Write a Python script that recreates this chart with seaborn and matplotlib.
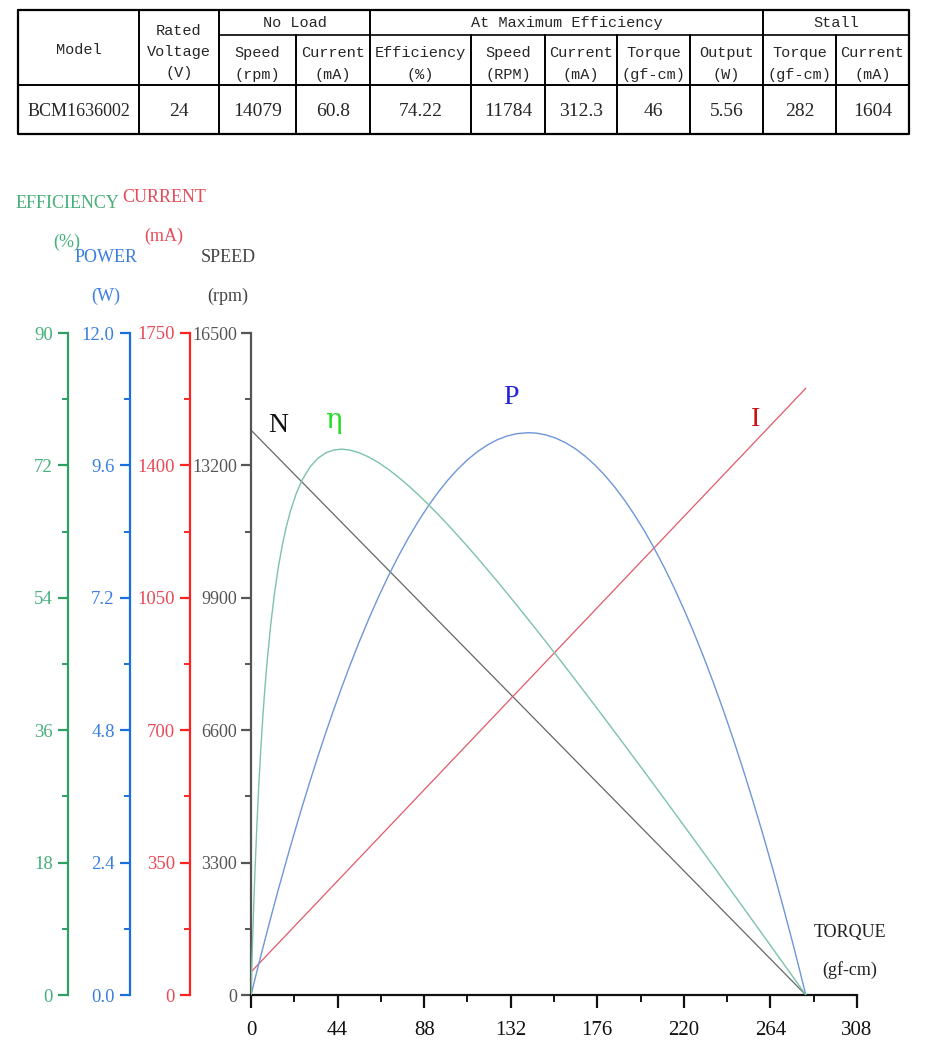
import numpy as np
import pandas as pd
import matplotlib
matplotlib.use("Agg")
import matplotlib.pyplot as plt
from matplotlib.ticker import FixedLocator, MultipleLocator, FormatStrFormatter
import seaborn as sns

# ---------------- data ----------------
table_values = ["BCM1636002", "24", "14079", "60.8", "74.22", "11784", "312.3", "46", "5.56", "282", "1604"]
group_headers = ["No Load", "At Maximum Efficiency", "Stall"]
col_headers = [["Model"], ["Rated", "Voltage", "(V)"], ["Speed", "(rpm)"], ["Current", "(mA)"],
               ["Efficiency", "(%)"], ["Speed", "(RPM)"], ["Current", "(mA)"], ["Torque", "(gf-cm)"],
               ["Output", "(W)"], ["Torque", "(gf-cm)"], ["Current", "(mA)"]]

torque_line = [0, 282]
speed_line = [14079, 0]
current_line = [60.8, 1604]

torque = [0, 0.5, 1, 1.5, 2, 3, 4, 5, 6, 7, 8, 10, 12, 14, 16, 18, 20, 23, 26, 30, 34, 38, 42, 46,
          50, 55, 60, 65, 70, 75, 80, 85, 90, 95, 100, 105, 110, 115, 120, 125, 130, 135, 141, 145,
          150, 155, 160, 165, 170, 175, 180, 185, 190, 195, 200, 205, 210, 215, 220, 225, 230, 235,
          240, 245, 250, 255, 260, 265, 270, 274, 276, 278, 282]
efficiency = [0, 4.73, 9.06, 13.03, 16.68, 23.16, 28.73, 33.56, 37.78, 41.50, 44.78, 50.30, 54.73,
              58.33, 61.28, 63.73, 65.75, 68.18, 70.02, 71.79, 72.97, 73.70, 74.09, 74.21,
              74.10, 73.72, 73.12, 72.35, 71.43, 70.38, 69.24, 68.02, 66.72, 65.36, 63.95, 62.49,
              60.99, 59.45, 57.88, 56.29, 54.67, 53.02, 51.02, 49.68,
              47.98, 46.26, 44.53, 42.79, 41.04, 39.28, 37.50, 35.72, 33.93, 32.13, 30.33, 28.51,
              26.70, 24.87, 23.04, 21.20, 19.36, 17.52, 15.67, 13.82, 11.96, 10.10, 8.24, 6.37,
              4.50, 3.00, 2.25, 1.50, 0]
power = [0, 0.072, 0.144, 0.216, 0.287, 0.429, 0.570, 0.710, 0.849, 0.987, 1.124, 1.395, 1.661,
         1.924, 2.182, 2.436, 2.687, 3.054, 3.413, 3.876, 4.323, 4.754, 5.168, 5.566,
         5.948, 6.401, 6.829, 7.232, 7.609, 7.960, 8.286, 8.585, 8.860, 9.108, 9.331, 9.529,
         9.701, 9.847, 9.967, 10.062, 10.131, 10.175, 10.193, 10.185,
         10.152, 10.093, 10.008, 9.898, 9.762, 9.601, 9.413, 9.201, 8.962, 8.698, 8.409, 8.093,
         7.752, 7.386, 6.993, 6.576, 6.132, 5.663, 5.168, 4.648, 4.102, 3.530, 2.933, 2.310,
         1.661, 1.124, 0.849, 0.570, 0]

x_ticks = [0, 44, 88, 132, 176, 220, 264, 308]
speed_ticks = [0, 3300, 6600, 9900, 13200, 16500]
current_ticks = [0, 350, 700, 1050, 1400, 1750]
power_ticks = [0.0, 2.4, 4.8, 7.2, 9.6, 12.0]
eff_ticks = [0, 18, 36, 54, 72, 90]

# ---------------- style ----------------
sns.set_style("ticks")
plt.rcParams['font.family'] = ['Liberation Serif', 'DejaVu Serif']

W, H = 950, 1064
fig = plt.figure(figsize=(W / 100, H / 100), dpi=100)

GREEN_SP, GREEN_TX, GREEN_LN = "#2ea062", "#45b07a", "#7cc3a6"
BLUE_SP, BLUE_TX, BLUE_LN = "#1a6fe0", "#3a7ee0", "#6e96d8"
RED_SP, RED_TX, RED_LN = "#ff2222", "#e84a58", "#e05a6a"
GRAY_SP, GRAY_TX, GRAY_LN = "#555555", "#555555", "#666666"

# ---------------- overlay (table + titles) ----------------
ov = fig.add_axes([0, 0, 1, 1])
ov.set_xlim(0, W)
ov.set_ylim(H, 0)
ov.axis("off")

col_edges = [18, 139, 219, 296, 370, 471, 545, 617, 690, 763, 836, 909]
y_top, y_mid, y_hdr, y_bot = 10, 35, 85, 134
ov.plot([18, 909, 909, 18, 18], [y_top, y_top, y_bot, y_bot, y_top], color="black", lw=1.6)
ov.plot([18, 909], [y_hdr, y_hdr], color="black", lw=1.4)
ov.plot([219, 909], [y_mid, y_mid], color="black", lw=1.2)
for xe in col_edges[1:-1]:
    if xe in (139, 219, 370, 763):
        ov.plot([xe, xe], [y_top, y_bot], color="black", lw=1.4)
    else:
        ov.plot([xe, xe], [y_mid, y_bot], color="black", lw=1.4)
centers = [(col_edges[i] + col_edges[i + 1]) / 2 for i in range(len(col_edges) - 1)]
mono = "Liberation Mono"
hfs = 11
ov.text((219 + 370) / 2, 23, group_headers[0], ha="center", va="center", fontsize=hfs, family=mono)
ov.text((370 + 763) / 2, 23, group_headers[1], ha="center", va="center", fontsize=hfs, family=mono)
ov.text((763 + 909) / 2, 23, group_headers[2], ha="center", va="center", fontsize=hfs, family=mono)
for i, hdr in enumerate(col_headers):
    if i == 0:
        ov.text(centers[i], 50, hdr[0], ha="center", va="center", fontsize=hfs, family=mono)
    elif i == 1:
        for j, t in enumerate(hdr):
            ov.text(centers[i], 31 + j * 21, t, ha="center", va="center", fontsize=hfs, family=mono)
    else:
        for j, t in enumerate(hdr):
            ov.text(centers[i], 53 + j * 22, t, ha="center", va="center", fontsize=hfs, family=mono)
for i, v in enumerate(table_values):
    ov.text(centers[i], 111, v, ha="center", va="center", fontsize=13 if i == 0 else 14)

# axis titles
tfs = 13
ov.text(67, 203, "EFFICIENCY", color=GREEN_TX, ha="center", va="center", fontsize=tfs)
ov.text(67, 242, "(%)", color=GREEN_TX, ha="center", va="center", fontsize=tfs)
ov.text(106, 258, "POWER", color=BLUE_TX, ha="center", va="center", fontsize=tfs)
ov.text(106, 296, "(W)", color=BLUE_TX, ha="center", va="center", fontsize=tfs)
ov.text(164, 198, "CURRENT", color=RED_TX, ha="center", va="center", fontsize=tfs)
ov.text(164, 236, "(mA)", color=RED_TX, ha="center", va="center", fontsize=tfs)
ov.text(228, 258, "SPEED", color="#444444", ha="center", va="center", fontsize=tfs)
ov.text(228, 296, "(rpm)", color="#444444", ha="center", va="center", fontsize=tfs)
ov.text(850, 933, "TORQUE", color="#222222", ha="center", va="center", fontsize=tfs)
ov.text(850, 970, "(gf-cm)", color="#222222", ha="center", va="center", fontsize=tfs)

# ---------------- main axes ----------------
x0, x1, yb, yt = 251, 857, 995, 333
ax = fig.add_axes([x0 / W, (H - yb) / H, (x1 - x0) / W, (yb - yt) / H])
ax.patch.set_alpha(0)
ax.set_xlim(0, 308)
ax.set_ylim(0, 16500)
for s in ["top", "right"]:
    ax.spines[s].set_visible(False)
ax.spines["left"].set_color(GRAY_SP)
ax.spines["left"].set_linewidth(1.6)
ax.spines["bottom"].set_color("#111111")
ax.spines["bottom"].set_linewidth(1.6)
ax.xaxis.set_major_locator(FixedLocator(x_ticks))
ax.xaxis.set_minor_locator(MultipleLocator(22))
ax.yaxis.set_major_locator(FixedLocator(speed_ticks))
ax.yaxis.set_minor_locator(MultipleLocator(1650))
ax.tick_params(axis="x", which="major", direction="out", length=9, width=1.6, pad=10,
               labelsize=15, colors="#111111")
ax.tick_params(axis="x", which="minor", direction="out", length=5, width=1.4, colors="#111111")
ax.tick_params(axis="y", which="major", direction="out", length=7, width=1.6, pad=3,
               labelsize=13, colors=GRAY_SP, labelcolor=GRAY_TX)
ax.tick_params(axis="y", which="minor", direction="out", length=4, width=1.4, colors=GRAY_SP)


def make_twin(pos, ylim, ticks, minor, sp_col, tx_col, fmt=None):
    tw = ax.twinx()
    tw.set_ylim(*ylim)
    for s in ["top", "right", "bottom"]:
        tw.spines[s].set_visible(False)
    tw.spines["left"].set_visible(True)
    tw.spines["left"].set_position(("axes", pos))
    tw.spines["left"].set_color(sp_col)
    tw.spines["left"].set_linewidth(1.6)
    tw.yaxis.set_ticks_position("left")
    tw.yaxis.set_label_position("left")
    tw.yaxis.set_major_locator(FixedLocator(ticks))
    tw.yaxis.set_minor_locator(MultipleLocator(minor))
    if fmt:
        tw.yaxis.set_major_formatter(FormatStrFormatter(fmt))
    tw.tick_params(axis="y", which="major", direction="out", length=7, width=1.6, pad=4,
                   labelsize=13.5, colors=sp_col, labelcolor=tx_col)
    tw.tick_params(axis="y", which="minor", direction="out", length=4, width=1.4, colors=sp_col)
    return tw


ax_i = make_twin((190 - x0) / (x1 - x0), (0, 1750), current_ticks, 175, RED_SP, RED_TX)
ax_p = make_twin((130 - x0) / (x1 - x0), (0, 12), power_ticks, 1.2, BLUE_SP, BLUE_TX, "%.1f")
ax_e = make_twin((68 - x0) / (x1 - x0), (0, 90), eff_ticks, 9, GREEN_SP, GREEN_TX)

df_line = pd.DataFrame({"torque": torque_line, "speed": speed_line, "current": current_line})
df_curve = pd.DataFrame({"torque": torque, "eff": efficiency, "power": power})

sns.lineplot(data=df_line, x="torque", y="speed", ax=ax, color=GRAY_LN, lw=0.9, sort=False, estimator=None)
sns.lineplot(data=df_line, x="torque", y="current", ax=ax_i, color=RED_LN, lw=0.9, sort=False, estimator=None)
sns.lineplot(data=df_curve, x="torque", y="power", ax=ax_p, color=BLUE_LN, lw=1.0, sort=False, estimator=None)
sns.lineplot(data=df_curve, x="torque", y="eff", ax=ax_e, color=GREEN_LN, lw=1.0, sort=False, estimator=None)
for a in (ax, ax_i, ax_p, ax_e):
    a.set_xlabel("")
    a.set_ylabel("")
ax.set_xlim(0, 308)

# curve labels
ov.text(278, 425, "N", color="#111111", ha="center", va="center", fontsize=20)
ov.text(333, 420, "η", color="#22dd22", ha="center", va="center", fontsize=20, family=["DejaVu Serif"])
ov.text(511, 398, "P", color="#2222dd", ha="center", va="center", fontsize=20)
ov.text(756, 420, "I", color="#cc1111", ha="center", va="center", fontsize=20)

fig.savefig("out.png", dpi=100)
